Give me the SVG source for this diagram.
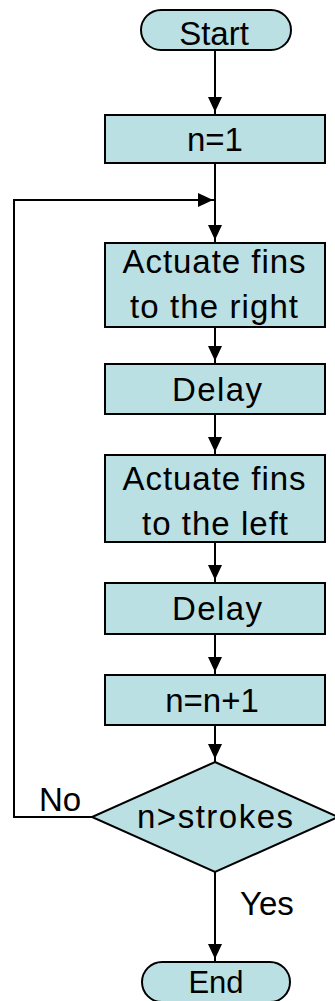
<svg xmlns="http://www.w3.org/2000/svg" width="335" height="1001" viewBox="0 0 335 1001">
<style>
.n{fill:#bbe0e3;stroke:#000;stroke-width:2}
.t{font-family:"Liberation Sans",Arial,sans-serif;font-size:33px;fill:#000;text-anchor:middle}
.l{font-family:"Liberation Sans",Arial,sans-serif;font-size:33px;fill:#000}
.c{fill:none;stroke:#000;stroke-width:2}
</style>
<defs>
<marker id="a" markerUnits="userSpaceOnUse" markerWidth="15" markerHeight="14" refX="18" refY="7" orient="auto" viewBox="0 0 15 14" overflow="visible">
<path d="M0,0 L15,7 L0,14 z" fill="#000"/>
</marker>
</defs>
<rect width="335" height="1001" fill="#fff"/>
<g id="connectors">
<line class="c" x1="215" y1="50" x2="215" y2="115" marker-end="url(#a)"/>
<line class="c" x1="215" y1="163" x2="215" y2="243" marker-end="url(#a)"/>
<polyline class="c" points="92,817 14,817 14,200 216,200" marker-end="url(#a)"/>
<line class="c" x1="215" y1="327" x2="215" y2="364" marker-end="url(#a)"/>
<line class="c" x1="215" y1="414" x2="215" y2="455" marker-end="url(#a)"/>
<line class="c" x1="215" y1="542" x2="215" y2="583" marker-end="url(#a)"/>
<line class="c" x1="215" y1="634" x2="215" y2="675" marker-end="url(#a)"/>
<line class="c" x1="215" y1="725" x2="215" y2="762" marker-end="url(#a)"/>
<line class="c" x1="215" y1="872" x2="215" y2="962" marker-end="url(#a)"/>
<text class="l" x="39" y="811">No</text>
<text class="l" x="240" y="915">Yes</text>
</g>
<g id="start">
<rect class="n" x="141" y="10" width="150" height="40" rx="20" ry="20"/>
<text class="t" x="214" y="45">Start</text>
</g>
<g id="init">
<rect class="n" x="105" y="115" width="220" height="48"/>
<text class="t" x="215" y="151">n=1</text>
</g>
<g id="right">
<rect class="n" x="105" y="243" width="220" height="84"/>
<text class="t" x="214" y="273" textLength="183">Actuate fins</text>
<text class="t" x="214" y="318" textLength="168">to the right</text>
</g>
<g id="delay1">
<rect class="n" x="105" y="364" width="220" height="50"/>
<text class="t" x="217" y="401" textLength="90">Delay</text>
</g>
<g id="left">
<rect class="n" x="105" y="455" width="220" height="87"/>
<text class="t" x="214" y="490" textLength="183">Actuate fins</text>
<text class="t" x="215" y="535" textLength="146">to the left</text>
</g>
<g id="delay2">
<rect class="n" x="105" y="583" width="220" height="51"/>
<text class="t" x="217" y="620" textLength="90">Delay</text>
</g>
<g id="inc">
<rect class="n" x="105" y="675" width="220" height="50"/>
<text class="t" x="212" y="712">n=n+1</text>
</g>
<g id="decision">
<polygon class="n" points="215,762 338,817 215,872 92,817"/>
<text class="t" x="215" y="828" textLength="156">n&gt;strokes</text>
</g>
<g id="end">
<rect class="n" x="142" y="962" width="148" height="40" rx="20" ry="20"/>
<text class="t" x="216" y="993" style="font-size:31px">End</text>
</g>
</svg>
